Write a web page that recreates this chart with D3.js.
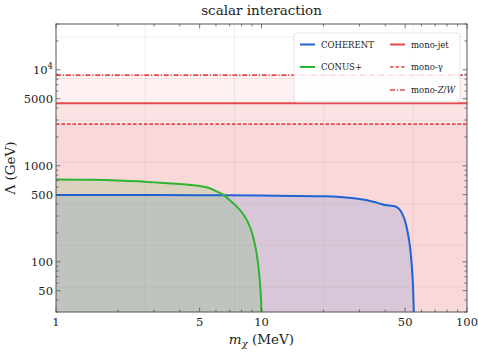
<!DOCTYPE html>
<html>
<head>
<meta charset="utf-8">
<title>scalar interaction</title>
<script src="https://cdn.jsdelivr.net/npm/d3@7"></script>
<style>
  body { margin: 0; background: #fff; }
  svg { display: block; }
</style>
</head>
<body>
<svg id="chart"></svg>
<script>
// --- data ---
var massCoherent   = [1, 2, 5, 10, 20, 30, 35, 38, 40, 42, 44, 45.5, 47.5, 49, 50, 51.2, 52.8, 53.9, 54.7, 55.1];
var lambdaCoherent = [497, 496, 494, 490, 482, 450, 422, 402, 390, 385, 381, 372, 340, 298, 265, 214, 143, 89, 51, 30];

var massConus   = [1, 1.5, 2, 2.5, 3, 3.5, 4, 4.5, 5, 5.5, 6, 6.5, 7, 7.5, 8, 8.5, 9, 9.3, 9.6, 9.8, 9.95, 10.0];
var lambdaConus = [718, 715, 705, 690, 672, 658, 645, 632, 615, 590, 545, 500, 440, 385, 330, 270, 200, 150, 100, 65, 40, 30];

var colliderNames  = ["mono-jet", "mono-γ", "mono-Z/W"];
var colliderLambda = [4470, 2720, 8800];
var colliderDash   = ["none", "3.5,2", "5,1.8,1.2,1.8"];

var xTicks = [1, 5, 10, 50, 100];
var xMinor = [2, 3, 4, 6, 7, 8, 9, 20, 30, 40, 60, 70, 80, 90];
var yTicks = [50, 100, 500, 1000, 5000, 10000];
var yMinor = [30, 40, 60, 70, 80, 90, 200, 300, 400, 600, 700, 800, 900,
              2000, 3000, 4000, 6000, 7000, 8000, 9000, 20000, 30000];
// grid sits on powers of e
var xGrid = [2.718, 7.389, 20.09, 54.6];
var yGrid = [54.6, 148.4, 403.4, 1096.6, 2981, 8103, 22026];

var width = 478, height = 355;
var margin = {top: 24, right: 11, bottom: 43, left: 56};
var W = width - margin.left - margin.right;
var H = height - margin.top - margin.bottom;

var blue = "#1f63d2", green = "#2db52d", red = "#e6474a";
var serif = "'DejaVu Serif', 'Liberation Serif', serif";

var svg = d3.select("#chart").attr("width", width).attr("height", height)
  .attr("font-family", serif);
var g = svg.append("g").attr("transform", "translate(" + margin.left + "," + margin.top + ")");

var x = d3.scaleLog().domain([1, 100]).range([0, W]);
var y = d3.scaleLog().domain([30, 30000]).range([H, 0]);

g.append("clipPath").attr("id", "clip")
  .append("rect").attr("width", W).attr("height", H);
var plot = g.append("g").attr("clip-path", "url(#clip)");

// collider bands (stacked translucent red)
colliderLambda.forEach(function(v) {
  plot.append("rect")
    .attr("x", 0).attr("width", W)
    .attr("y", y(v)).attr("height", H - y(v))
    .attr("fill", red).attr("fill-opacity", 0.075);
});

var area = d3.area()
  .x(function(d) { return x(d[0]); })
  .y0(H)
  .y1(function(d) { return y(d[1]); })
  .curve(d3.curveMonotoneX);
var line = d3.line()
  .x(function(d) { return x(d[0]); })
  .y(function(d) { return y(d[1]); })
  .curve(d3.curveMonotoneX);

var coh = d3.zip(massCoherent, lambdaCoherent);
var con = d3.zip(massConus, lambdaConus);

plot.append("path").attr("d", area(coh)).attr("fill", blue).attr("fill-opacity", 0.14);
plot.append("path").attr("d", area(con)).attr("fill", green).attr("fill-opacity", 0.15);

// grid
plot.selectAll(".gx").data(xGrid).enter().append("line")
  .attr("x1", x).attr("x2", x).attr("y1", 0).attr("y2", H)
  .attr("stroke", "#999").attr("stroke-opacity", 0.2).attr("stroke-width", 0.8);
plot.selectAll(".gy").data(yGrid).enter().append("line")
  .attr("y1", y).attr("y2", y).attr("x1", 0).attr("x2", W)
  .attr("stroke", "#999").attr("stroke-opacity", 0.2).attr("stroke-width", 0.8);

// collider lines
colliderLambda.forEach(function(v, i) {
  plot.append("line")
    .attr("x1", 0).attr("x2", W).attr("y1", y(v)).attr("y2", y(v))
    .attr("stroke", red).attr("stroke-width", i == 0 ? 2 : 1.6)
    .attr("stroke-dasharray", colliderDash[i]);
});

plot.append("path").attr("d", line(coh)).attr("fill", "none")
  .attr("stroke", blue).attr("stroke-width", 2);
plot.append("path").attr("d", line(con)).attr("fill", "none")
  .attr("stroke", green).attr("stroke-width", 2);

// frame + ticks (inward, all four sides)
var tickCol = "#555";
g.append("rect").attr("width", W).attr("height", H)
  .attr("fill", "none").attr("stroke", tickCol).attr("stroke-width", 1);

function xt(vals, len) {
  g.selectAll(null).data(vals).enter().append("line")
    .attr("x1", x).attr("x2", x).attr("y1", H).attr("y2", H - len)
    .attr("stroke", tickCol).attr("stroke-width", 0.8);
  g.selectAll(null).data(vals).enter().append("line")
    .attr("x1", x).attr("x2", x).attr("y1", 0).attr("y2", len)
    .attr("stroke", tickCol).attr("stroke-width", 0.8);
}
function yt(vals, len) {
  g.selectAll(null).data(vals).enter().append("line")
    .attr("y1", y).attr("y2", y).attr("x1", 0).attr("x2", len)
    .attr("stroke", tickCol).attr("stroke-width", 0.8);
  g.selectAll(null).data(vals).enter().append("line")
    .attr("y1", y).attr("y2", y).attr("x1", W).attr("x2", W - len)
    .attr("stroke", tickCol).attr("stroke-width", 0.8);
}
xt(xTicks, 4.5); xt(xMinor, 2.5);
yt(yTicks, 4.5); yt(yMinor, 2.5);

// tick labels
g.selectAll(".xl").data(xTicks).enter().append("text")
  .attr("x", x).attr("y", H + 14)
  .attr("text-anchor", "middle").attr("font-size", 11.5).attr("fill", "#222")
  .text(function(d) { return d; });

var yl = g.selectAll(".yl").data(yTicks).enter().append("text")
  .attr("x", -3).attr("y", function(d) { return y(d) + 4; })
  .attr("text-anchor", "end").attr("font-size", 11.5).attr("fill", "#222");
yl.each(function(d) {
  var t = d3.select(this);
  if (d == 10000) {
    t.append("tspan").text("10");
    t.append("tspan").attr("dy", -5).attr("font-size", 8.5).text("4");
  } else {
    t.text(d);
  }
});

// title and axis labels
svg.append("text").attr("x", margin.left + W / 2).attr("y", 15)
  .attr("text-anchor", "middle").attr("font-size", 13.5).attr("fill", "#222")
  .text("scalar interaction");

var xlab = svg.append("text").attr("x", margin.left + W / 2).attr("y", 344)
  .attr("text-anchor", "middle").attr("font-size", 13.5).attr("fill", "#222");
xlab.append("tspan").attr("font-style", "italic").text("m");
xlab.append("tspan").attr("font-style", "italic").attr("font-size", 10).attr("dy", 3).text("χ");
xlab.append("tspan").attr("dy", -3).text(" (MeV)");

svg.append("text")
  .attr("transform", "translate(15," + (margin.top + H / 2) + ") rotate(-90)")
  .attr("text-anchor", "middle").attr("font-size", 13.5).attr("fill", "#222")
  .text("Λ (GeV)");

// legend
var lg = svg.append("g").attr("transform", "translate(294,33)");
lg.append("rect").attr("width", 166).attr("height", 69).attr("rx", 3)
  .attr("fill", "#fff").attr("fill-opacity", 0.82)
  .attr("stroke", "#ddd").attr("stroke-width", 0.8);

var legendItems = [
  {name: "COHERENT", col: blue, dash: "none", w: 2, cx: 6, row: 0},
  {name: "CONUS+", col: green, dash: "none", w: 2, cx: 6, row: 1},
  {name: colliderNames[0], col: red, dash: colliderDash[0], w: 2, cx: 96, row: 0},
  {name: colliderNames[1], col: red, dash: colliderDash[1], w: 1.6, cx: 96, row: 1},
  {name: colliderNames[2], col: red, dash: colliderDash[2], w: 1.6, cx: 96, row: 2}
];
var rowY = [11.5, 34, 57];
legendItems.forEach(function(d) {
  lg.append("line")
    .attr("x1", d.cx).attr("x2", d.cx + 15)
    .attr("y1", rowY[d.row]).attr("y2", rowY[d.row])
    .attr("stroke", d.col).attr("stroke-width", d.w).attr("stroke-dasharray", d.dash);
  var t = lg.append("text").attr("x", d.cx + 21).attr("y", rowY[d.row] + 3.3)
    .attr("font-size", 8.5).attr("fill", "#222");
  if (d.name == "mono-Z/W") {
    t.append("tspan").text("mono-");
    t.append("tspan").attr("font-style", "italic").text("Z");
    t.append("tspan").text("/");
    t.append("tspan").attr("font-style", "italic").text("W");
  } else {
    t.text(d.name);
  }
});
</script>
</body>
</html>
